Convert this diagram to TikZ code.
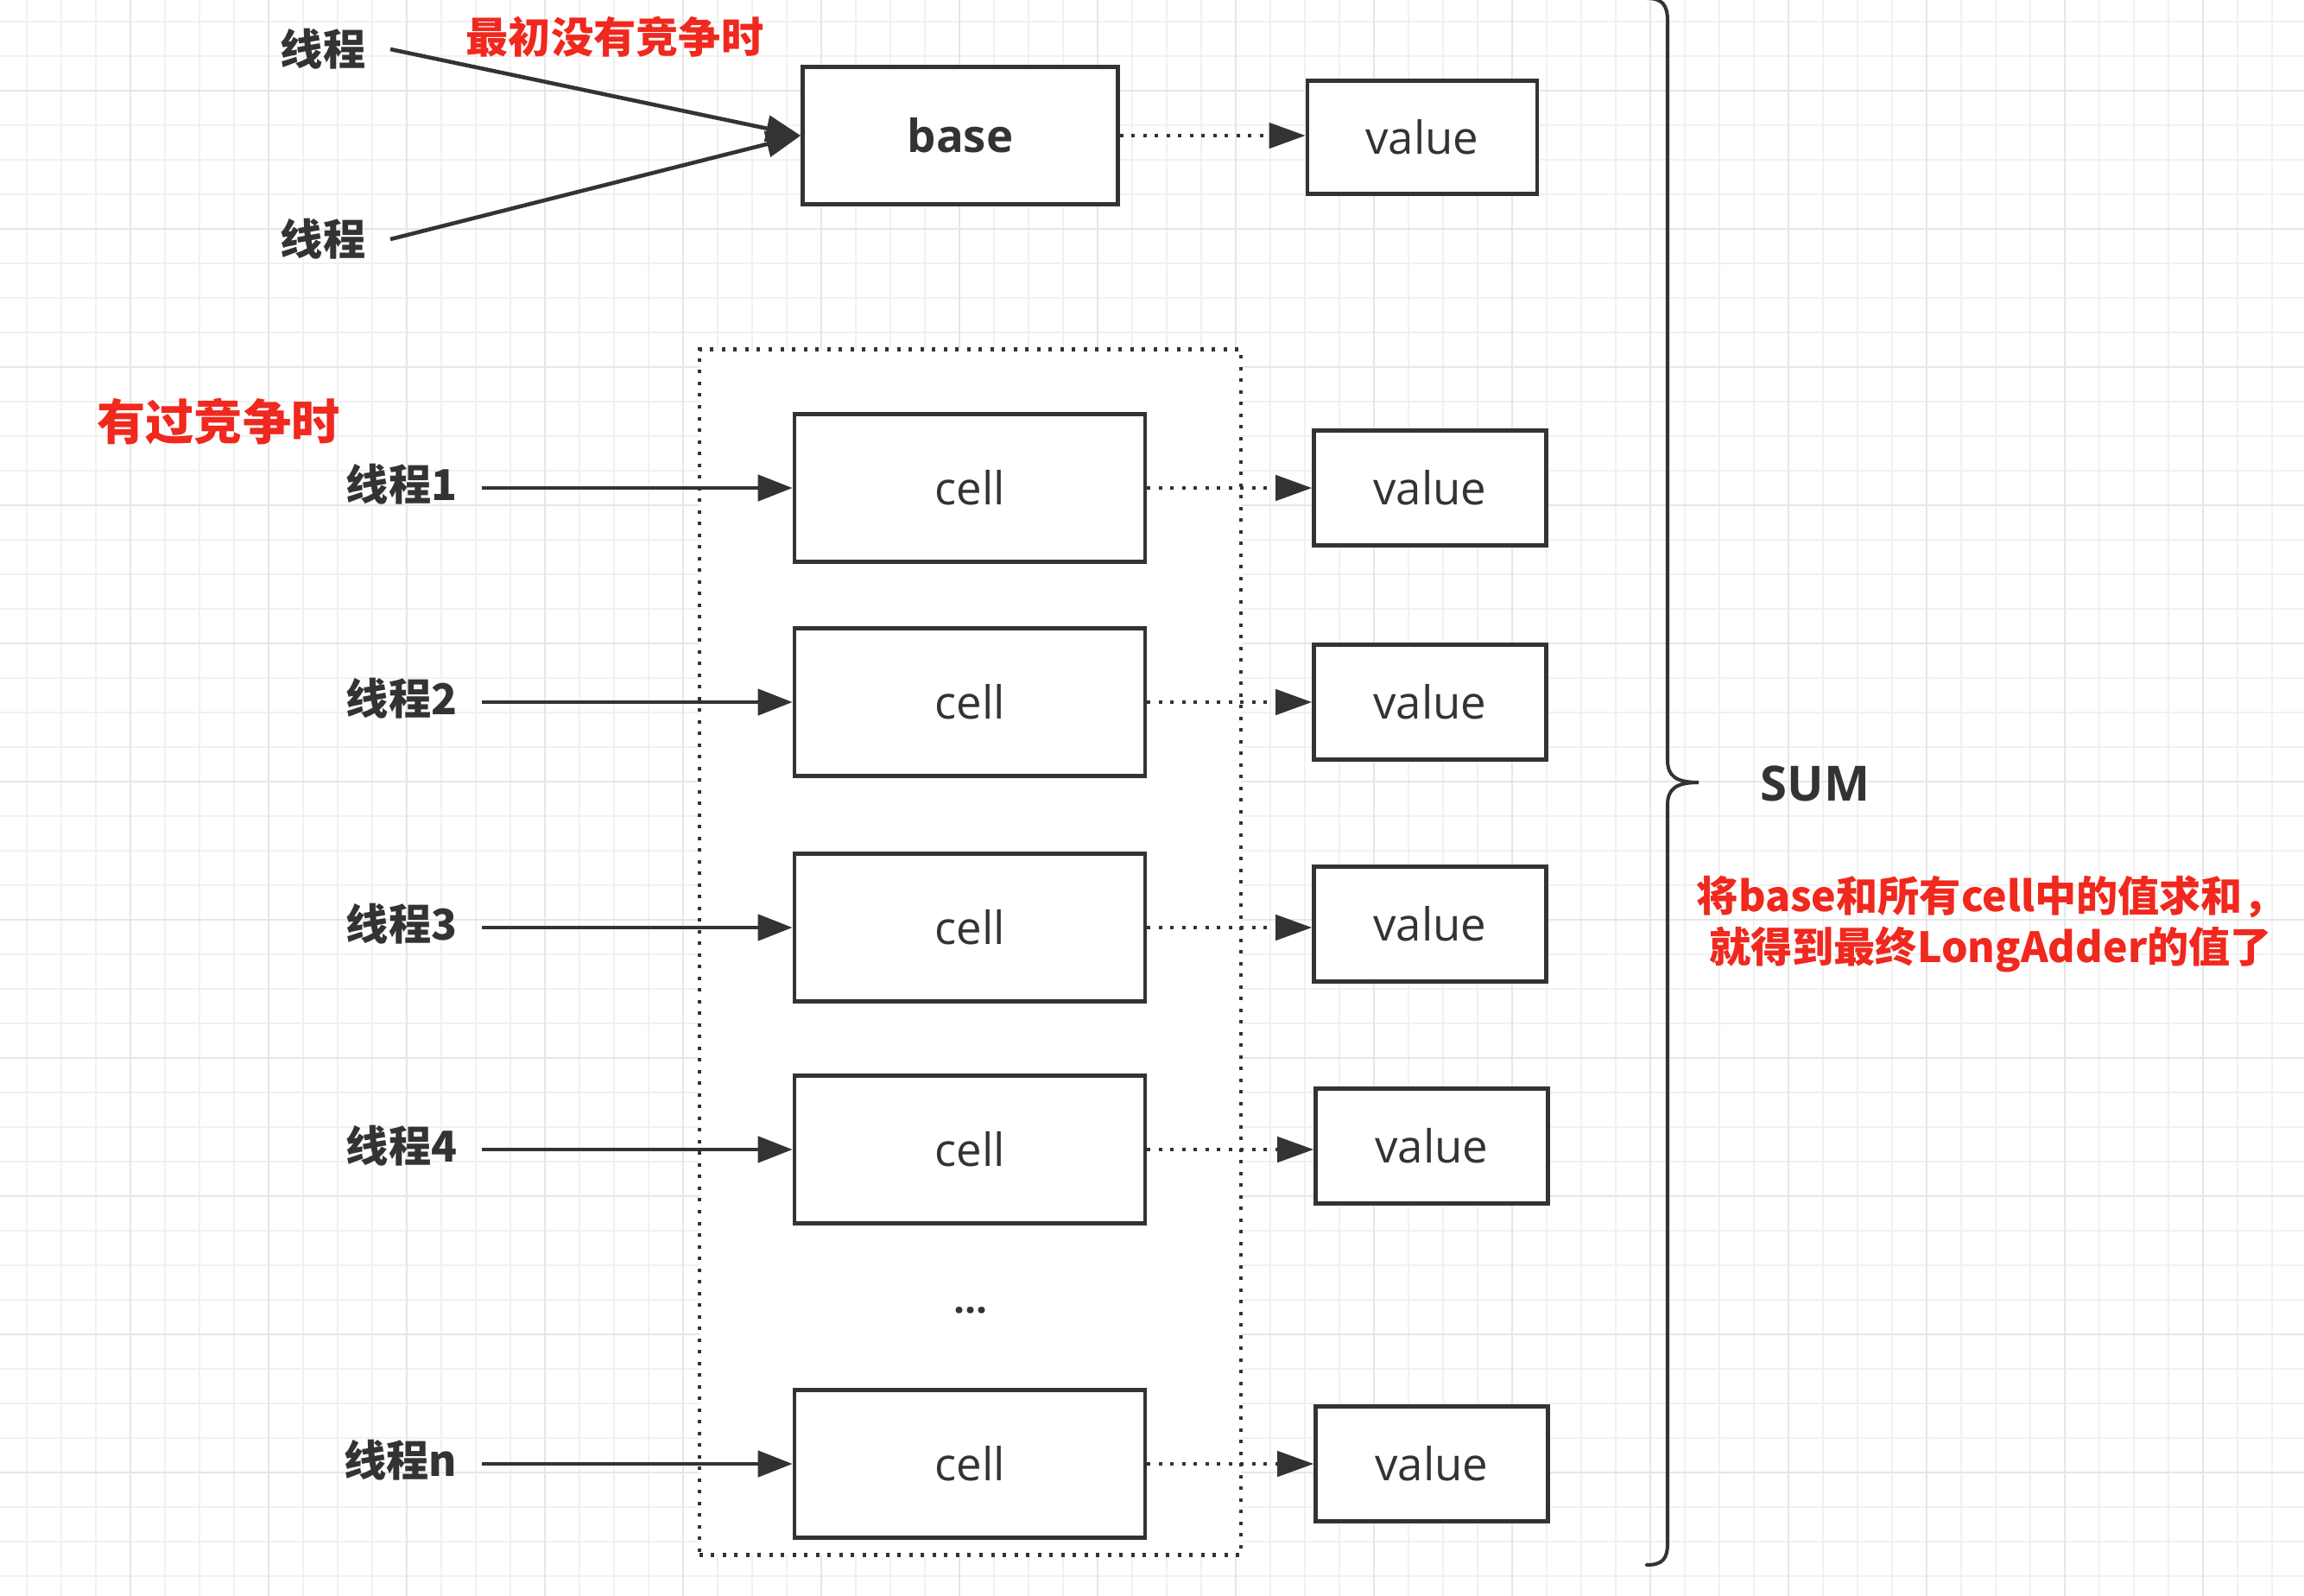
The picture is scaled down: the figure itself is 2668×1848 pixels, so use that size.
\documentclass[tikz,border=0pt]{standalone}
\usepackage{fontspec}
\setmainfont{Open Sans}
\newfontfamily\cjk{Noto Sans CJK SC}
\usetikzlibrary{arrows.meta}
\definecolor{ink}{HTML}{333333}
\definecolor{hot}{HTML}{F0281E}
\definecolor{gridmin}{HTML}{F1F1F1}
\definecolor{gridmaj}{HTML}{E6E6E6}
\tikzset{
  box/.style={draw=ink, line width=1.25pt, fill=white, text=ink, font=\fontsize{15pt}{18pt}\selectfont, inner sep=0pt},
  thr/.style={text=ink, font=\cjk\bfseries\fontsize{14pt}{17pt}\selectfont, inner xsep=0.28cm, inner ysep=0pt},
  redlab/.style={text=hot, font=\cjk\bfseries\fontsize{14pt}{16.8pt}\selectfont, inner sep=0pt},
  solidarrow/.style={draw=ink, line width=1.3pt, -{Triangle[length=0.4cm,width=0.3cm]}},
  dotarrow/.style={draw=ink, line width=1.3pt, dash pattern=on 0.04cm off 0.095cm, -{Triangle[length=0.42cm,width=0.29cm]}},
  groupbox/.style={draw=ink, fill=white, line width=1.3pt, dash pattern=on 0.04cm off 0.095cm, inner sep=0pt},
  bracestyle/.style={draw=ink, line width=1.15pt, line cap=round},
  gridminor/.style={draw=gridmin, line width=0.5pt},
  gridmajor/.style={draw=gridmaj, line width=0.7pt},
}
\begin{document}
\begin{tikzpicture}[x=0.01cm, y=-0.01cm]
\useasboundingbox (0,0) rectangle (2668,1848);
\fill[white] (0,0) rectangle (2668,1848);
% grid
\foreach \gx in {31,71,...,2668} \draw[gridminor] (\gx,0) -- (\gx,1848);
\foreach \gy in {25,65,...,1848} \draw[gridminor] (0,\gy) -- (2668,\gy);
\foreach \gx in {151,311,...,2668} \draw[gridmajor] (\gx,0) -- (\gx,1848);
\foreach \gy in {105,265,...,1848} \draw[gridmajor] (0,\gy) -- (2668,\gy);

% top part
\node[box, font=\bfseries\fontsize{15pt}{18pt}\selectfont, minimum width=3.65cm, minimum height=1.59cm] (base) at (1112,157) {base};
\node[box, minimum width=2.66cm, minimum height=1.31cm] (v0) at (1647,159) {value};
\node[thr, anchor=east] (t0) at (452,57) {线程};
\node[thr, anchor=east] (t0b) at (452,277) {线程};
\node[redlab] (r0) at (712,43) {最初没有竞争时};
\draw[solidarrow] (t0.east) -- (base.west);
\draw[solidarrow] (t0b.east) -- (base.west);
\draw[dotarrow] (base.east) -- (base.east -| v0.west);

% contention part
\node[redlab, font=\cjk\bfseries\fontsize{16pt}{19pt}\selectfont] (r1) at (253,488) {有过竞争时};
\node[groupbox, minimum width=6.27cm, minimum height=13.95cm] (grp) at (1123.5,1102.5) {};

\foreach \i/\cy/\vy/\vx/\lab in {1/565/565/1656/线程1, 2/813/813/1656/线程2, 3/1074/1070/1656/线程3, 4/1331/1327/1658/线程4, 5/1695/1695/1658/线程n}{
  \node[box, minimum width=4.06cm, minimum height=1.71cm] (c\i) at (1123,\cy) {cell};
  \node[box, minimum width=2.69cm, minimum height=1.33cm] (v\i) at (\vx,\vy) {value};
  \node[thr, anchor=east] (t\i) at (558,\cy-4) {\lab};
  \draw[solidarrow] (t\i.east |- c\i.west) -- (c\i.west);
  \draw[dotarrow] (c\i.east) -- (c\i.east -| v\i.west);
}
\node[text=ink, font=\bfseries\fontsize{13pt}{15pt}\selectfont, inner sep=0pt] (dots) at (1124,1517) {...};

% brace
\draw[bracestyle] (1907,-2) .. controls (1925,-2) and (1931,6) .. (1931,24) -- (1931,880) .. controls (1931,898) and (1940,906) .. (1967,906) .. controls (1940,906) and (1931,914) .. (1931,932) -- (1931,1787) .. controls (1931,1805) and (1925,1812) .. (1907,1812);

\node[text=ink, font=\bfseries\fontsize{16pt}{19pt}\selectfont, inner sep=0pt] (sum) at (2102,907) {SUM};
\node[redlab, font=\cjk\bfseries\fontsize{13.7pt}{16.8pt}\selectfont, align=center] (note) at (2305,1070) {将base和所有cell中的值求和，\\就得到最终LongAdder的值了};
\end{tikzpicture}
\end{document}
